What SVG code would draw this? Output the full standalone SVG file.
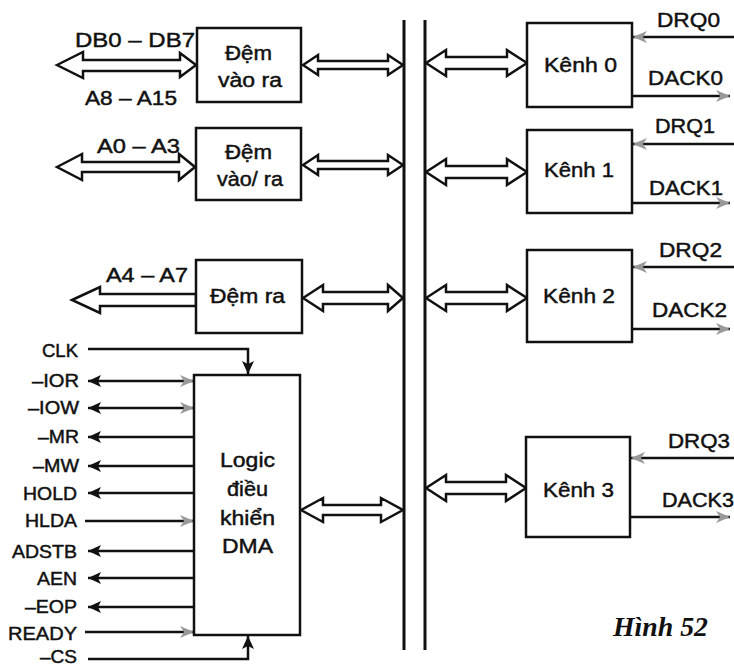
<svg xmlns="http://www.w3.org/2000/svg" width="734" height="667" viewBox="0 0 734 667">
<style>
.box{fill:#fff;stroke:#111;stroke-width:2.5}
.bus{stroke:#111;stroke-width:3;fill:none}
.da{fill:#fff;stroke:#111;stroke-width:2.5;stroke-linejoin:miter}
.sig{stroke:#111;stroke-width:2.5;fill:none}
.t{font-family:"Liberation Sans",Arial,sans-serif;font-size:20px;fill:#111;stroke:#111;stroke-width:0.45}
.s{font-family:"Liberation Sans",Arial,sans-serif;font-size:18px;fill:#111;stroke:#111;stroke-width:0.45}
.cap{font-family:"Liberation Serif","Times New Roman",serif;font-size:27px;font-weight:bold;font-style:italic;fill:#111}
</style>
<defs>
<marker id="blk" viewBox="0 0 13 12" refX="13" refY="6" markerUnits="userSpaceOnUse" markerWidth="13" markerHeight="12" orient="auto-start-reverse">
<path d="M0,0 L13,6 L0,12 L3,6 Z" fill="#111"/>
</marker>
<marker id="gry" viewBox="0 0 14 12" refX="14" refY="6" markerUnits="userSpaceOnUse" markerWidth="14" markerHeight="12" orient="auto-start-reverse">
<path d="M0,0 L14,6 L0,12 L4,6 Z" fill="#999"/>
</marker>
</defs>
<rect width="734" height="667" fill="#fff"/>

<g id="connectors">
<line class="bus" x1="404" y1="20" x2="404" y2="650"/>
<line class="bus" x1="425" y1="20" x2="425" y2="650"/>
<polygon class="da" points="57,65 83,52 83,60 180,60 180,53 196,65 180,77 180,71 83,71 83,78"/>
<polygon class="da" points="303,65 318,55 318,61 388,61 388,55 403,65 388,75 388,69 318,69 318,75"/>
<polygon class="da" points="57,167 82,154 82,162 179,162 179,154 195,167 179,180 179,172 82,172 82,180"/>
<polygon class="da" points="303,165 318,155 318,161 388,161 388,155 403,165 388,175 388,169 318,169 318,175"/>
<polygon class="da" points="72,300 100,287 100,294 196,294 196,306 100,306 100,313"/>
<polygon class="da" points="303,298 323,285 323,292 388,292 388,285 403,298 388,311 388,304 323,304 323,311"/>
<polygon class="da" points="301,510 323,498 323,505 381,505 381,498 403,510 381,522 381,515 323,515 323,522"/>
<polygon class="da" points="426,63 446,50 446,57 507,57 507,50 527,63 507,76 507,69 446,69 446,76"/>
<polygon class="da" points="426,172 446,159 446,166 507,166 507,159 527,172 507,185 507,178 446,178 446,185"/>
<polygon class="da" points="426,298 446,285 446,292 507,292 507,285 527,298 507,311 507,304 446,304 446,311"/>
<polygon class="da" points="426,488 446,475 446,482 506,482 506,475 526,488 506,501 506,494 446,494 446,501"/>
<path class="sig" d="M88,349 H248 V374" marker-end="url(#blk)"/>
<line class="sig" x1="194" y1="381" x2="88" y2="381" marker-start="url(#gry)" marker-end="url(#blk)"/>
<line class="sig" x1="194" y1="408" x2="88" y2="408" marker-start="url(#gry)" marker-end="url(#blk)"/>
<line class="sig" x1="194" y1="437" x2="88" y2="437" marker-end="url(#blk)"/>
<line class="sig" x1="194" y1="466" x2="88" y2="466" marker-end="url(#blk)"/>
<line class="sig" x1="194" y1="493" x2="88" y2="493" marker-end="url(#blk)"/>
<line class="sig" x1="85" y1="521" x2="194" y2="521" marker-end="url(#gry)"/>
<line class="sig" x1="194" y1="551" x2="88" y2="551" marker-end="url(#blk)"/>
<line class="sig" x1="194" y1="578" x2="88" y2="578" marker-end="url(#blk)"/>
<line class="sig" x1="194" y1="607" x2="88" y2="607" marker-end="url(#blk)"/>
<line class="sig" x1="85" y1="632" x2="194" y2="632" marker-end="url(#gry)"/>
<path class="sig" d="M88,659 H248 V636" marker-end="url(#blk)"/>
<line class="sig" x1="734" y1="37" x2="633" y2="37" marker-end="url(#gry)"/>
<line class="sig" x1="632" y1="96" x2="730" y2="96" marker-end="url(#gry)"/>
<line class="sig" x1="734" y1="144" x2="633" y2="144" marker-end="url(#gry)"/>
<line class="sig" x1="632" y1="203" x2="730" y2="203" marker-end="url(#gry)"/>
<line class="sig" x1="734" y1="267" x2="633" y2="267" marker-end="url(#gry)"/>
<line class="sig" x1="632" y1="329" x2="730" y2="329" marker-end="url(#gry)"/>
<line class="sig" x1="734" y1="458" x2="631" y2="458" marker-end="url(#gry)"/>
<line class="sig" x1="630" y1="517" x2="730" y2="517" marker-end="url(#gry)"/>
</g>

<g id="labels">
<text class="t" x="75" y="47" textLength="120" lengthAdjust="spacingAndGlyphs">DB0 – DB7</text>
<text class="t" x="85" y="105" textLength="92" lengthAdjust="spacingAndGlyphs">A8 – A15</text>
<text class="t" x="97" y="153" textLength="83" lengthAdjust="spacingAndGlyphs">A0 – A3</text>
<text class="t" x="106" y="282" textLength="82" lengthAdjust="spacingAndGlyphs">A4 – A7</text>
<text class="s" x="42" y="357" textLength="36" lengthAdjust="spacingAndGlyphs">CLK</text>
<text class="s" x="32" y="387" textLength="47" lengthAdjust="spacingAndGlyphs">–IOR</text>
<text class="s" x="28" y="414" textLength="51" lengthAdjust="spacingAndGlyphs">–IOW</text>
<text class="s" x="38" y="443" textLength="41" lengthAdjust="spacingAndGlyphs">–MR</text>
<text class="s" x="33" y="472" textLength="46" lengthAdjust="spacingAndGlyphs">–MW</text>
<text class="s" x="23" y="500" textLength="54" lengthAdjust="spacingAndGlyphs">HOLD</text>
<text class="s" x="25" y="527" textLength="52" lengthAdjust="spacingAndGlyphs">HLDA</text>
<text class="s" x="12" y="558" textLength="65" lengthAdjust="spacingAndGlyphs">ADSTB</text>
<text class="s" x="37" y="585" textLength="40" lengthAdjust="spacingAndGlyphs">AEN</text>
<text class="s" x="25" y="613" textLength="52" lengthAdjust="spacingAndGlyphs">–EOP</text>
<text class="s" x="8" y="640" textLength="69" lengthAdjust="spacingAndGlyphs">READY</text>
<text class="s" x="40" y="663" textLength="37" lengthAdjust="spacingAndGlyphs">–CS</text>
<text class="t" x="657" y="27" textLength="63" lengthAdjust="spacingAndGlyphs">DRQ0</text>
<text class="t" x="648" y="85" textLength="75" lengthAdjust="spacingAndGlyphs">DACK0</text>
<text class="t" x="655" y="133" textLength="60" lengthAdjust="spacingAndGlyphs">DRQ1</text>
<text class="t" x="649" y="195" textLength="74" lengthAdjust="spacingAndGlyphs">DACK1</text>
<text class="t" x="659" y="257" textLength="63" lengthAdjust="spacingAndGlyphs">DRQ2</text>
<text class="t" x="652" y="317" textLength="75" lengthAdjust="spacingAndGlyphs">DACK2</text>
<text class="t" x="668" y="448" textLength="62" lengthAdjust="spacingAndGlyphs">DRQ3</text>
<text class="t" x="662" y="507" textLength="72" lengthAdjust="spacingAndGlyphs">DACK3</text>
<text class="cap" x="613" y="636" textLength="95" lengthAdjust="spacingAndGlyphs">Hình 52</text>
</g>

<g id="dem-vao-ra">
<rect class="box" x="197" y="28" width="104" height="74"/>
<text class="t" x="225" y="60" textLength="47" lengthAdjust="spacingAndGlyphs">Đệm</text>
<text class="t" x="218" y="87" textLength="64" lengthAdjust="spacingAndGlyphs">vào ra</text>
</g>
<g id="dem-vao-ra-2">
<rect class="box" x="196" y="128" width="105" height="72"/>
<text class="t" x="225" y="159" textLength="47" lengthAdjust="spacingAndGlyphs">Đệm</text>
<text class="t" x="217" y="186" textLength="66" lengthAdjust="spacingAndGlyphs">vào/ ra</text>
</g>
<g id="dem-ra">
<rect class="box" x="196" y="260" width="106" height="73"/>
<text class="t" x="210" y="303" textLength="75" lengthAdjust="spacingAndGlyphs">Đệm ra</text>
</g>
<g id="logic-dma">
<rect class="box" x="194" y="375" width="106" height="260"/>
<text class="t" x="220" y="467" textLength="55" lengthAdjust="spacingAndGlyphs">Logic</text>
<text class="t" x="227" y="496" textLength="41" lengthAdjust="spacingAndGlyphs">điều</text>
<text class="t" x="220" y="525" textLength="55" lengthAdjust="spacingAndGlyphs">khiển</text>
<text class="t" x="222" y="553" textLength="51" lengthAdjust="spacingAndGlyphs">DMA</text>
</g>
<g id="kenh0">
<rect class="box" x="527" y="23" width="105" height="84"/>
<text class="t" x="544" y="72" textLength="73" lengthAdjust="spacingAndGlyphs">Kênh 0</text>
</g>
<g id="kenh1">
<rect class="box" x="527" y="130" width="105" height="83"/>
<text class="t" x="544" y="177" textLength="70" lengthAdjust="spacingAndGlyphs">Kênh 1</text>
</g>
<g id="kenh2">
<rect class="box" x="527" y="250" width="105" height="92"/>
<text class="t" x="543" y="303" textLength="72" lengthAdjust="spacingAndGlyphs">Kênh 2</text>
</g>
<g id="kenh3">
<rect class="box" x="526" y="437" width="104" height="100"/>
<text class="t" x="543" y="497" textLength="71" lengthAdjust="spacingAndGlyphs">Kênh 3</text>
</g>
</svg>
